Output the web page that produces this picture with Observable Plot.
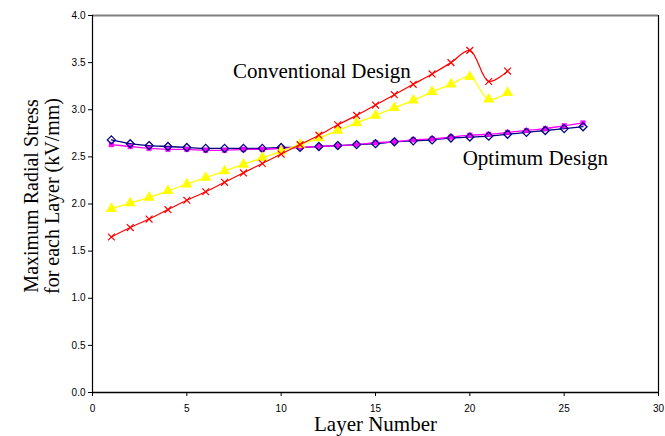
<!DOCTYPE html>
<html>
<head>
<meta charset="utf-8">
<script src="https://cdn.jsdelivr.net/npm/d3@7"></script>
<script src="https://cdn.jsdelivr.net/npm/@observablehq/plot@0.6"></script>
<style>
  html, body { margin: 0; padding: 0; background: #fff; }
  #chart svg { display: block; }
</style>
</head>
<body>
<div id="chart"></div>
<script>
const convLayers = [1,2,3,4,5,6,7,8,9,10,11,12,13,14,15,16,17,18,19,20,21,22];
const convRed = [1.65,1.75,1.84,1.94,2.04,2.13,2.23,2.33,2.43,2.53,2.63,2.73,2.84,2.94,3.05,3.16,3.27,3.38,3.50,3.63,3.30,3.41];
const convYellow = [1.95,2.01,2.07,2.14,2.21,2.28,2.35,2.42,2.49,2.56,2.63,2.70,2.78,2.86,2.94,3.02,3.10,3.19,3.27,3.35,3.11,3.18];
const optLayers = [1,2,3,4,5,6,7,8,9,10,11,12,13,14,15,16,17,18,19,20,21,22,23,24,25,26];
const optNavy = [2.68,2.64,2.62,2.61,2.60,2.59,2.59,2.59,2.59,2.60,2.60,2.61,2.62,2.63,2.64,2.66,2.67,2.68,2.70,2.71,2.72,2.74,2.76,2.78,2.80,2.82];
const optMagenta = [2.63,2.61,2.59,2.58,2.58,2.57,2.57,2.58,2.58,2.59,2.60,2.61,2.62,2.63,2.65,2.66,2.68,2.69,2.71,2.73,2.74,2.76,2.78,2.80,2.83,2.86];
const xTicks = [0,5,10,15,20,25,30];
const yTicks = [0,0.5,1,1.5,2,2.5,3,3.5,4];

const red = convLayers.map((l,i) => ({x:l, y:convRed[i]}));
const yellow = convLayers.map((l,i) => ({x:l, y:convYellow[i]}));
const navy = optLayers.map((l,i) => ({x:l, y:optNavy[i]}));
const magenta = optLayers.map((l,i) => ({x:l, y:optMagenta[i]}));

const serif = "'Liberation Serif', 'DejaVu Serif', serif";
const sans = "'Liberation Sans', Arial, sans-serif";

const chart = Plot.plot({
  width: 665,
  height: 436,
  marginLeft: 92,
  marginRight: 7,
  marginTop: 15,
  marginBottom: 44,
  style: {fontFamily: sans, fontSize: "10px", background: "#fff", color: "#000"},
  x: {domain: [0, 30], label: null},
  y: {domain: [0, 4], label: null},
  marks: [
    Plot.ruleY([4], {stroke: "#808080", strokeWidth: 2}),
    Plot.ruleY([0], {stroke: "#808080", strokeWidth: 2}),
    Plot.ruleX([30], {stroke: "#000", strokeWidth: 1.2}),
    Plot.axisX({ticks: xTicks, tickSize: 4, tickPadding: 8, stroke: "#000", fill: "#000", fontSize: 10, label: null}),
    Plot.axisY({ticks: yTicks, tickSize: 4, tickPadding: 3, stroke: "#000", fill: "#000", fontSize: 10, label: null}),
    Plot.ruleX([0], {stroke: "#000", strokeWidth: 1.2}),
    Plot.ruleY([0], {stroke: "#000", strokeWidth: 1}),
    Plot.line(navy, {x: "x", y: "y", stroke: "#000080", strokeWidth: 1.3, curve: "catmull-rom"}),
    Plot.line(magenta, {x: "x", y: "y", stroke: "#FF00FF", strokeWidth: 1.3, curve: "catmull-rom"}),
    Plot.dot(magenta, {x: "x", y: "y", symbol: "square", r: 2.6, fill: "#FF00FF", stroke: "#FF00FF", strokeWidth: 0.5}),
    Plot.dot(navy, {x: "x", y: "y", symbol: "diamond2", r: 3.6, fill: "none", stroke: "#000080", strokeWidth: 1.3}),
    Plot.line(yellow, {x: "x", y: "y", stroke: "#FFFF00", strokeWidth: 1.3, curve: "catmull-rom"}),
    Plot.dot(yellow, {x: "x", y: "y", symbol: "triangle", r: 3.2, fill: "#FFFF00", stroke: "#FFFF00"}),
    Plot.line(red, {x: "x", y: "y", stroke: "#FF0000", strokeWidth: 1.2, curve: "catmull-rom"}),
    Plot.dot(red, {x: "x", y: "y", symbol: "times", r: 3.2, stroke: "#FF0000", strokeWidth: 1.2}),
    Plot.text(["Conventional Design"], {x: 12.16, y: 3.41, text: d => d, fontFamily: serif, fontSize: 21, fill: "#000"}),
    Plot.text(["Optimum Design"], {x: 23.47, y: 2.49, text: d => d, fontFamily: serif, fontSize: 21, fill: "#000"}),
    Plot.text(["Layer Number"], {frameAnchor: "bottom", dy: 32, lineAnchor: "middle", textAnchor: "middle", text: d => d, fontFamily: serif, fontSize: 21, fill: "#000"}),
    Plot.text(["Maximum Radial Stress\nfor each Layer (kV/mm)"], {frameAnchor: "left", dx: -51, dy: -8, rotate: -90, textAnchor: "middle", lineAnchor: "middle", lineHeight: 1.05, text: d => d, fontFamily: serif, fontSize: 20, fill: "#000"})
  ]
});
document.getElementById("chart").appendChild(chart);
</script>
</body>
</html>
